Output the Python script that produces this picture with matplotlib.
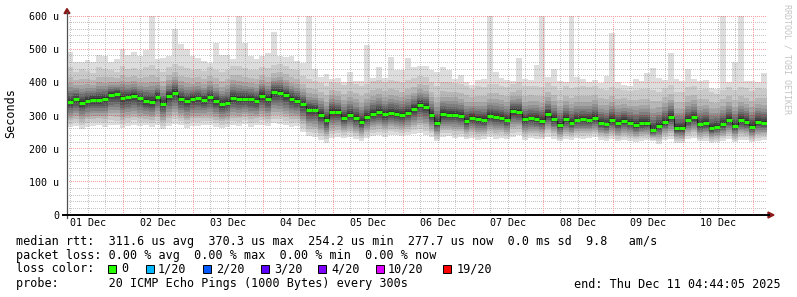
import numpy as np
import matplotlib
matplotlib.use("Agg")
import matplotlib.pyplot as plt
from matplotlib.lines import Line2D
from matplotlib.patches import Polygon, Rectangle

W, H, DPI = 797, 297, 100

# ---------------- data ----------------
start_hours = 4 + 44 / 60 + 5 / 3600      # Dec 1 04:44:05 (hours since Dec 1 00:00)
step_hours = 2.0                          # one column per 2 hours, 10 days

median = [341, 349, 338, 345, 348, 347, 350, 362, 365, 354, 356, 359, 352, 344, 341, 357, 336, 359, 369, 350, 344, 350,
          352, 347, 355, 344, 334, 339, 354, 351, 351, 350, 345, 360, 349, 370, 369, 362, 351, 345, 335, 317, 317, 302, 285, 312,
          310, 293, 303, 293, 280, 296, 306, 311, 304, 309, 306, 301, 308, 319, 332, 327, 301, 278, 304, 301, 303, 298, 284,
          293, 288, 286, 298, 296, 293, 286, 314, 311, 288, 291, 289, 284, 304, 289, 271, 289, 278, 286, 288, 286, 293, 278,
          274, 286, 276, 284, 278, 271, 276, 276, 256, 268, 281, 296, 261, 261, 286, 294, 273, 276, 261, 266, 273, 286, 268, 286, 281, 266, 281, 278]

ping_min = [264, 268, 260, 266, 268, 270, 266, 272, 270, 262, 268, 272, 268, 270, 266, 272, 258, 268, 274, 270, 262, 268,
            268, 272, 270, 266, 262, 264, 270, 268, 274, 266, 270, 272, 268, 276, 274, 270, 266, 268, 250, 238, 236, 226, 218, 232,
            236, 232, 236, 228, 222, 232, 238, 240, 236, 242, 240, 238, 240, 244, 246, 240, 236, 222, 236, 238, 232, 234, 228,
            232, 226, 228, 234, 230, 232, 228, 236, 240, 226, 232, 230, 228, 236, 230, 222, 228, 226, 232, 230, 232, 234, 226,
            224, 228, 222, 226, 224, 220, 224, 226, 222, 214, 226, 228, 218, 216, 228, 232, 222, 224, 218, 220, 224, 230, 220, 226, 226, 220, 224, 226]

ping_hi = [445, 430, 440, 435, 428, 445, 440, 436, 432, 448, 440, 444, 438, 446, 452, 440, 432, 446, 456, 448, 444, 436,
           440, 434, 446, 438, 430, 436, 450, 448, 442, 438, 436, 446, 444, 452, 456, 448, 440, 436, 420, 410, 405, 398, 390, 402,
           398, 392, 400, 396, 388, 396, 405, 408, 400, 406, 404, 400, 406, 412, 420, 416, 400, 388, 402, 400, 398, 396, 390,
           380, 388, 386, 396, 394, 390, 386, 395, 402, 388, 390, 388, 386, 398, 390, 378, 388, 382, 386, 388, 386, 390, 380,
           378, 386, 380, 378, 374, 376, 380, 380, 376, 372, 384, 392, 372, 372, 386, 390, 378, 380, 372, 366, 378, 386, 376, 386, 382, 374, 382, 380]

ping_max = [490, 460, 462, 467, 460, 482, 478, 462, 470, 500, 482, 492, 480, 497, 600, 470, 474, 478, 560, 515, 500, 480,
            473, 465, 458, 518, 482, 482, 470, 600, 518, 478, 470, 478, 488, 553, 478, 475, 478, 465, 458, 600, 440, 417, 425, 410,
            413, 402, 432, 403, 403, 512, 412, 447, 412, 477, 437, 437, 472, 447, 450, 450, 437, 430, 446, 437, 410, 422, 400,
            392, 407, 410, 600, 430, 413, 408, 405, 472, 410, 407, 452, 600, 415, 441, 405, 400, 600, 415, 410, 400, 408, 398,
            420, 548, 400, 392, 390, 410, 405, 427, 443, 412, 407, 488, 410, 403, 440, 410, 403, 407, 383, 380, 600, 400, 462, 600, 405, 405, 400, 427]

day_labels = ["01 Dec", "02 Dec", "03 Dec", "04 Dec", "05 Dec", "06 Dec", "07 Dec", "08 Dec", "09 Dec", "10 Dec"]
y_ticks = [0, 100, 200, 300, 400, 500, 600]
y_tick_labels = ["0", "100 u", "200 u", "300 u", "400 u", "500 u", "600 u"]
loss_labels = ["0", "1/20", "2/20", "3/20", "4/20", "10/20", "19/20"]
loss_colors = ["#26ff00", "#00b8ff", "#0059ff", "#5e00ff", "#7e00ff", "#dd00ff", "#ff0000"]

legend_rows = [
    "median rtt:  311.6 us avg  370.3 us max  254.2 us min  277.7 us now  0.0 ms sd  9.8   am/s",
    "packet loss: 0.00 % avg  0.00 % max  0.00 % min  0.00 % now",
    "loss color:",
    "probe:       20 ICMP Echo Pings (1000 Bytes) every 300s",
]
end_text = "end: Thu Dec 11 04:44:05 2025"

# ---------------- style ----------------
MONO = "DejaVu Sans Mono"
lower_frac = [1.0, 0.85, 0.72, 0.62, 0.52, 0.42, 0.33, 0.24, 0.15, 0.07]
upper_frac = [None, 1.0, 0.72, 0.54, 0.42, 0.33, 0.25, 0.18, 0.12, 0.06]
MINOR_RGBA = (0.55, 0.55, 0.55, 0.5)
MAJOR_RGBA = (1.0, 0.0, 0.0, 0.38)


def fx(x):
    return x / W


def fy(y):
    return 1 - y / H


fig = plt.figure(figsize=(W / DPI, H / DPI), dpi=DPI, facecolor="white")
AX_L, AX_T, AX_W, AX_H = 67, 16, 700, 199
ax = fig.add_axes([fx(AX_L), fy(AX_T + AX_H), AX_W / W, AX_H / H])
ax.set_facecolor("white")

n = len(median)
edges = start_hours + step_hours * np.arange(n + 1)
med = np.array(median, float)
lo = np.array(ping_min, float)
hi = np.array(ping_hi, float)
top = np.array(ping_max, float)


def stepify(a):
    return np.append(a, a[-1])


for i in range(10):
    g = int(round(221 - 19 * i))
    col = "#%02x%02x%02x" % (g, g, g)
    lower = med - lower_frac[i] * (med - lo)
    upper = top if i == 0 else med + upper_frac[i] * (hi - med)
    ax.fill_between(edges, stepify(lower), stepify(upper), step="post",
                    color=col, lw=0, zorder=1)

x0, x1 = start_hours, start_hours + 240
ax.set_xlim(x0, x1)
ax.set_ylim(0, 600)

# ---- dotted grid as a pixel-exact overlay (1 px on / 1 px off) ----
grid = np.zeros((AX_H, AX_W, 4))


def to_px(x, y):
    d = ax.transData.transform([[x, y]])[0]
    col = int(np.floor(d[0] - AX_L))
    row = int(np.floor((H - AX_T) - d[1]))
    return col, row


def hline(v, rgba):
    _, r = to_px(x0, v)
    r = min(max(r, 0), AX_H - 1)
    grid[r, 0::2] = rgba


def vline(h, rgba):
    c, _ = to_px(h, 0)
    if 0 <= c < AX_W:
        grid[0::2, c] = rgba


for v in range(20, 600, 20):
    if v % 100:
        hline(v, MINOR_RGBA)
for h in range(6, 245, 6):
    if x0 < h < x1 and h % 24:
        vline(h, MINOR_RGBA)
for v in range(100, 601, 100):
    hline(v, MAJOR_RGBA)
for h in range(24, 245, 24):
    if x0 < h < x1:
        vline(h, MAJOR_RGBA)

ax.imshow(grid, extent=(x0, x1, 0, 600), aspect="auto", interpolation="nearest",
          zorder=3, origin="upper")
ax.set_xlim(x0, x1)
ax.set_ylim(0, 600)

# median line
ax.step(edges, stepify(med), where="post", color="#202020", lw=0.75, zorder=4)
ax.hlines(med, edges[:-1], edges[1:], color=loss_colors[0], lw=2.2, zorder=5,
          capstyle="butt")

for s in ax.spines.values():
    s.set_visible(False)

ax.set_yticks(y_ticks)
ax.set_yticklabels(y_tick_labels, fontfamily=MONO, fontsize=7.2)
noons = [24 * d + 12 for d in range(len(day_labels))]
ax.set_xticks(noons)
ax.set_xticklabels(day_labels, fontfamily=MONO, fontsize=7.2)
ax.tick_params(axis="y", length=0, pad=5.5)
ax.tick_params(axis="x", length=0, pad=2.5)

# axes lines and arrows
fig.add_artist(Line2D([fx(67), fx(67)], [fy(218), fy(12)], color="#505050", lw=0.9,
                      transform=fig.transFigure))
fig.add_artist(Line2D([fx(63), fx(769)], [fy(215), fy(215)], color="black", lw=1.4,
                      transform=fig.transFigure))
fig.add_artist(Polygon([[fx(64), fy(13.5)], [fx(70), fy(13.5)], [fx(67), fy(8.5)]],
                       closed=True, color="#8b1a1a", transform=fig.transFigure))
fig.add_artist(Polygon([[fx(768), fy(212)], [fx(768), fy(218)], [fx(774), fy(215)]],
                       closed=True, color="#8b1a1a", transform=fig.transFigure))

# labels
fig.text(fx(11), fy(113), "Seconds", rotation=90, ha="center", va="center",
         fontfamily=MONO, fontsize=8.5)
fig.text(fx(787), fy(4), "RRDTOOL / TOBI OETIKER", rotation=270, ha="center", va="top",
         fontfamily=MONO, fontsize=6, color="#c4c4c4")

rows_y = [241, 255, 269, 284]
for txt, yy in zip(legend_rows, rows_y):
    fig.text(fx(15.5), fy(yy), txt, ha="left", va="center", fontfamily=MONO, fontsize=8.5)
fig.text(fx(781), fy(rows_y[3]), end_text, ha="right", va="center", fontfamily=MONO,
         fontsize=8.5)

box_x = [108, 146, 203, 261, 318, 376, 443]
lab_x = [121, 158, 216, 274, 331, 388, 457]
for bx, lx, lab, c in zip(box_x, lab_x, loss_labels, loss_colors):
    fig.add_artist(Rectangle((fx(bx), fy(272.5)), 7.5 / W, 7.5 / H, facecolor=c,
                             edgecolor="black", lw=0.7, transform=fig.transFigure))
    fig.text(fx(lx), fy(rows_y[2]), lab, ha="left", va="center", fontfamily=MONO,
             fontsize=8.5)

fig.savefig("out.png", dpi=DPI, facecolor="white")
